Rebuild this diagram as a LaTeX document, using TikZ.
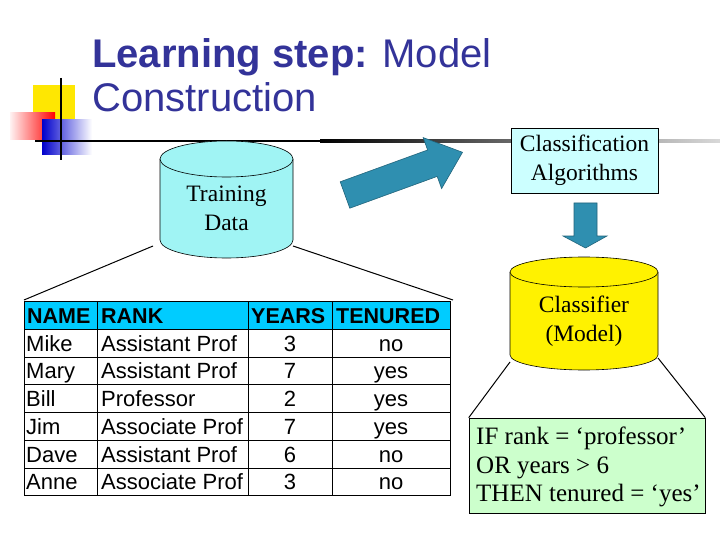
\documentclass[tikz,border=0pt]{standalone}
\usepackage{fontspec}
\setmainfont{Liberation Serif}
\setsansfont{Liberation Sans}
\definecolor{titleblue}{HTML}{333399}
\definecolor{cyl}{HTML}{A0F4F4}
\definecolor{arr}{HTML}{2F8FB0}
\definecolor{hdr}{HTML}{00CCFF}
\definecolor{algo}{HTML}{CCFFFF}
\definecolor{rule}{HTML}{CCFFCC}
\tikzset{
  serif/.style={font=\fontsize{23.5}{29}\selectfont, align=center},
  cell/.style={font=\sffamily\fontsize{22}{24}\selectfont, anchor=base west, inner sep=0pt},
  hcell/.style={font=\sffamily\bfseries\fontsize{21.5}{24}\selectfont, anchor=base west, inner sep=0pt},
  ccell/.style={font=\sffamily\fontsize{22}{24}\selectfont, anchor=base, inner sep=0pt},
  conn/.style={black, line width=1pt},
  arrowfill/.style={fill=arr, draw=arr!70!black, line width=0.6pt}
}
\begin{document}
\begin{tikzpicture}[x=1pt,y=-1pt]
\useasboundingbox (0,0) rectangle (720,540);
\fill[white] (0,0) rectangle (720,540);
% decoration
\fill[yellow!90!orange] (33,85) rectangle (75,127);
\shade[left color=red!5, right color=red] (10,113) rectangle (55,140);
\shade[left color=blue!80!black, right color=white] (42,120) rectangle (92,155);
\fill[black] (35,140) rectangle (320,142.5);
\shade[left color=black, right color=gray!30] (320,140) rectangle (720,142.5);
\draw[line width=2.5pt] (61,78) -- (61,160);
% title
\node[anchor=base west, inner sep=0pt, text=titleblue, font=\sffamily\fontsize{40}{44}\selectfont] (t1) at (92,68) {\textbf{Learning step:} Model};
\node[anchor=base west, inner sep=0pt, text=titleblue, font=\sffamily\fontsize{40}{44}\selectfont] (t2) at (92,112) {Construction};
% training cylinder
\fill[cyl] (160,159) arc[x radius=66.5, y radius=18, start angle=180, end angle=360] -- (293,240) arc[x radius=66.5, y radius=18, start angle=0, end angle=180] -- cycle;
\draw[line width=0.6pt] (160,159) -- (160,240) arc[x radius=66.5, y radius=18, start angle=180, end angle=0] -- (293,159);
\draw[line width=0.6pt, fill=cyl] (226.5,159) ellipse[x radius=66.5, y radius=18];
\node[serif] (train) at (226.5,208) {Training\\Data};
\coordinate (trL) at (153,246);
\coordinate (trR) at (293,246);
% big arrow
\draw[arrowfill] (340.2,181.8) -- (427.6,150.0) -- (423.2,137.6) -- (462.5,152.3) -- (441.6,188.6) -- (437.2,176.4) -- (349.8,208.2) -- cycle;
% classification algorithms
\node[draw, fill=algo, line width=0.6pt, serif, minimum width=147pt, minimum height=65pt, inner sep=2pt] (alg) at (584.5,160.5) {Classification\\Algorithms};
\draw[arrowfill] (574,203) -- (597,203) -- (597,236) -- (607,236) -- (585.5,248) -- (563,236) -- (574,236) -- cycle;
% classifier cylinder
\fill[yellow] (510,272) arc[x radius=74, y radius=15, start angle=180, end angle=360] -- (658,355) arc[x radius=74, y radius=15, start angle=0, end angle=180] -- cycle;
\draw[line width=0.6pt] (510,272) -- (510,355) arc[x radius=74, y radius=15, start angle=180, end angle=0] -- (658,272);
\draw[line width=0.6pt, fill=yellow] (584,272) ellipse[x radius=74, y radius=15];
\node[serif] (model) at (584,321) {Classifier\\(Model)};
\coordinate (mL) at (510,362);
\coordinate (mR) at (658,358);
% rules
\node[draw, fill=rule, line width=0.6pt, minimum width=236pt, minimum height=95pt, inner sep=0pt] (rules) at (587,465.5) {};
\node[anchor=north west, align=left, font=\fontsize{25}{28.5}\selectfont, inner sep=0pt] (rtext) at (476,427) {IF rank = ‘professor’\\OR years > 6\\THEN tenured = ‘yes’};
\draw[conn] (mL) -- (rules.north west);
\draw[conn] (mR) -- (rules.north east);
% table
\fill[hdr] (24,301) rectangle (450,329);
\draw[line width=1pt] (24,301) rectangle (450,495);
\foreach \y in {329,357,384,412,440,468} \draw[line width=0.8pt] (24,\y) -- (450,\y);
\foreach \x in {97,248,332} \draw[line width=0.8pt] (\x,301) -- (\x,495);
\coordinate (tabL) at (24,300);
\coordinate (tabR) at (453,300);
\draw[conn] (trL) -- (tabL);
\draw[conn] (trR) -- (tabR);
\node[hcell] (h1) at (27,323) {NAME};
\node[hcell] (h2) at (101,323) {RANK};
\node[hcell] (h3) at (251,323) {YEARS};
\node[hcell] (h4) at (336,323) {TENURED};
\foreach \n/\r/\yy/\t [count=\i] in {Mike/Assistant Prof/3/no, Mary/Assistant Prof/7/yes, Bill/Professor/2/yes, Jim/Associate Prof/7/yes, Dave/Assistant Prof/6/no, Anne/Associate Prof/3/no}{
  \pgfmathsetmacro{\by}{329+27.7*\i-5.5}
  \node[cell] (n\i) at (26,\by) {\n};
  \node[cell] (r\i) at (101,\by) {\r};
  \node[ccell] (y\i) at (290,\by) {\yy};
  \node[ccell] (t\i) at (391,\by) {\t};
}
\end{tikzpicture}
\end{document}
